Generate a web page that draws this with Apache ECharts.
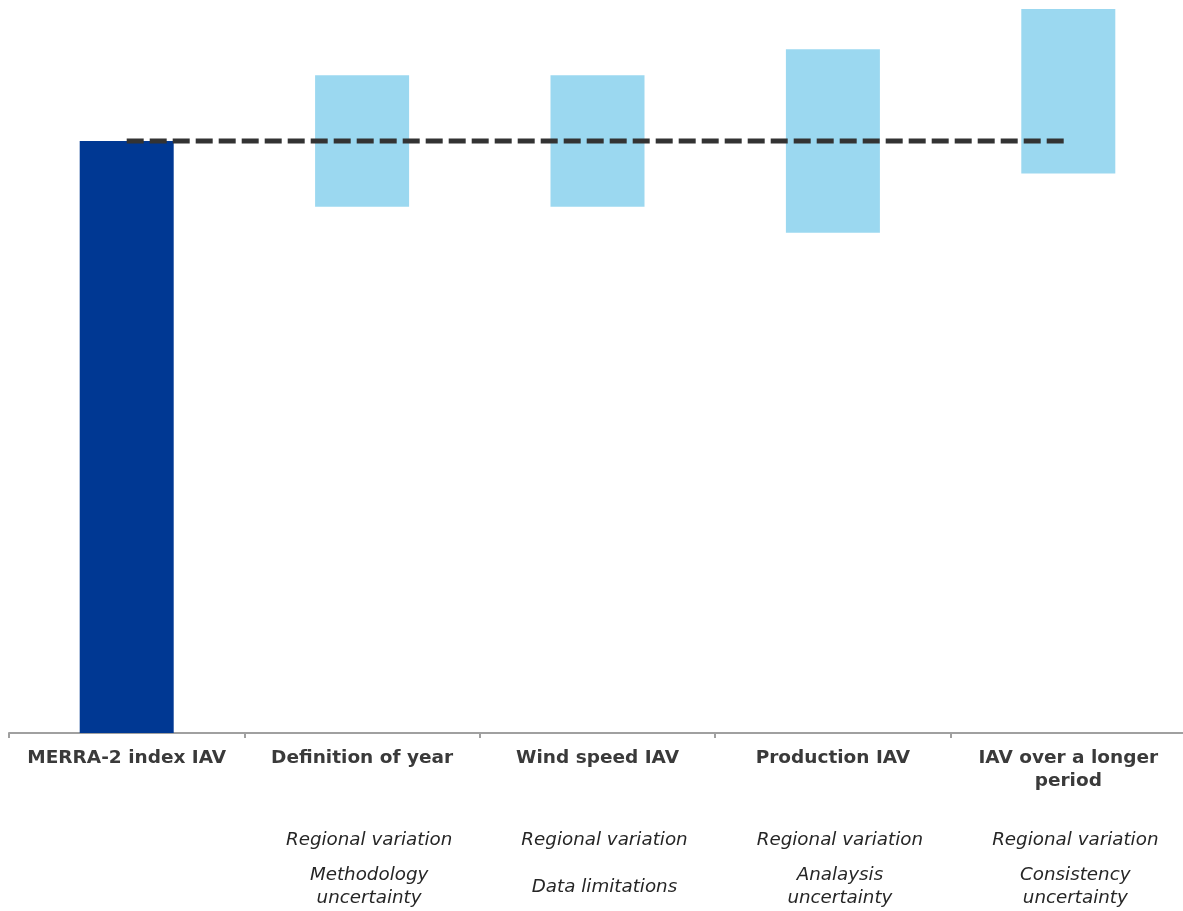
<!DOCTYPE html>
<html>
<head>
<meta charset="utf-8">
<script src="https://cdn.jsdelivr.net/npm/echarts@6/dist/echarts.min.js"></script>
<style>html,body{margin:0;padding:0;background:#fff}#c{width:1183px;height:911px}</style>
</head>
<body>
<div id="c"></div>
<script>
const categories = ["MERRA-2 index IAV", "Definition of year", "Wind speed IAV", "Production IAV", "IAV over a longer\nperiod"];
const lowValues = [0, 88.9, 88.9, 84.5, 94.5];
const highValues = [100, 111.1, 111.1, 115.5, 122.3];
const referenceLevel = [100, 100, 100, 100, 100];
const subLabels1 = ["", "Regional variation", "Regional variation", "Regional variation", "Regional variation"];
const subLabels2 = ["", "Methodology\nuncertainty", "Data limitations", "Analaysis\nuncertainty", "Consistency\nuncertainty"];

const DARK = "#003893", LIGHT = "#9BD8F0";
const chart = echarts.init(document.getElementById('c'), null, {renderer: 'canvas'});
const rangeData = highValues.map((h, i) => ({
  value: +(h - lowValues[i]).toFixed(2),
  itemStyle: {color: i === 0 ? DARK : LIGHT}
}));
const subAxis = (labels, margin) => ({
  type: 'category', data: categories, position: 'bottom', gridIndex: 0,
  axisLine: {show: false}, axisTick: {show: false},
  axisLabel: {
    interval: 0, margin: margin, verticalAlign: 'middle', align: 'center',
    fontFamily: 'DejaVu Sans', fontStyle: 'italic', fontSize: 18.3, lineHeight: 23,
    color: '#262626', padding: [0, 0, 0, 14],
    formatter: (v, i) => labels[i]
  }
});
chart.setOption({
  animation: false,
  grid: {left: 9, right: -3, top: -1, bottom: 178, outerBoundsMode: 'none'},
  xAxis: [
    {
      type: 'category', data: categories, position: 'bottom',
      axisLine: {lineStyle: {color: '#A0A0A0', width: 2}},
      axisTick: {show: true, length: 5, lineStyle: {color: '#A0A0A0', width: 2}},
      axisLabel: {
        interval: 0, margin: 14, verticalAlign: 'top', lineHeight: 23,
        fontFamily: 'DejaVu Sans', fontWeight: 'bold', fontSize: 18.5, color: '#3A3A3A'
      }
    },
    subAxis(subLabels1, 107),
    subAxis(subLabels2, 154)
  ],
  yAxis: {type: 'value', min: 0, max: 124, show: false, splitLine: {show: false}},
  series: [
    {type: 'bar', stack: 'w', barWidth: 94, data: lowValues,
     itemStyle: {color: 'rgba(0,0,0,0)'}, silent: true},
    {type: 'bar', stack: 'w', barWidth: 94, data: rangeData},
    {type: 'line', data: referenceLevel, symbol: 'none', z: 10,
     lineStyle: {color: '#333333', width: 5, type: [17, 6], cap: 'butt'}}
  ]
});
</script>
</body>
</html>
